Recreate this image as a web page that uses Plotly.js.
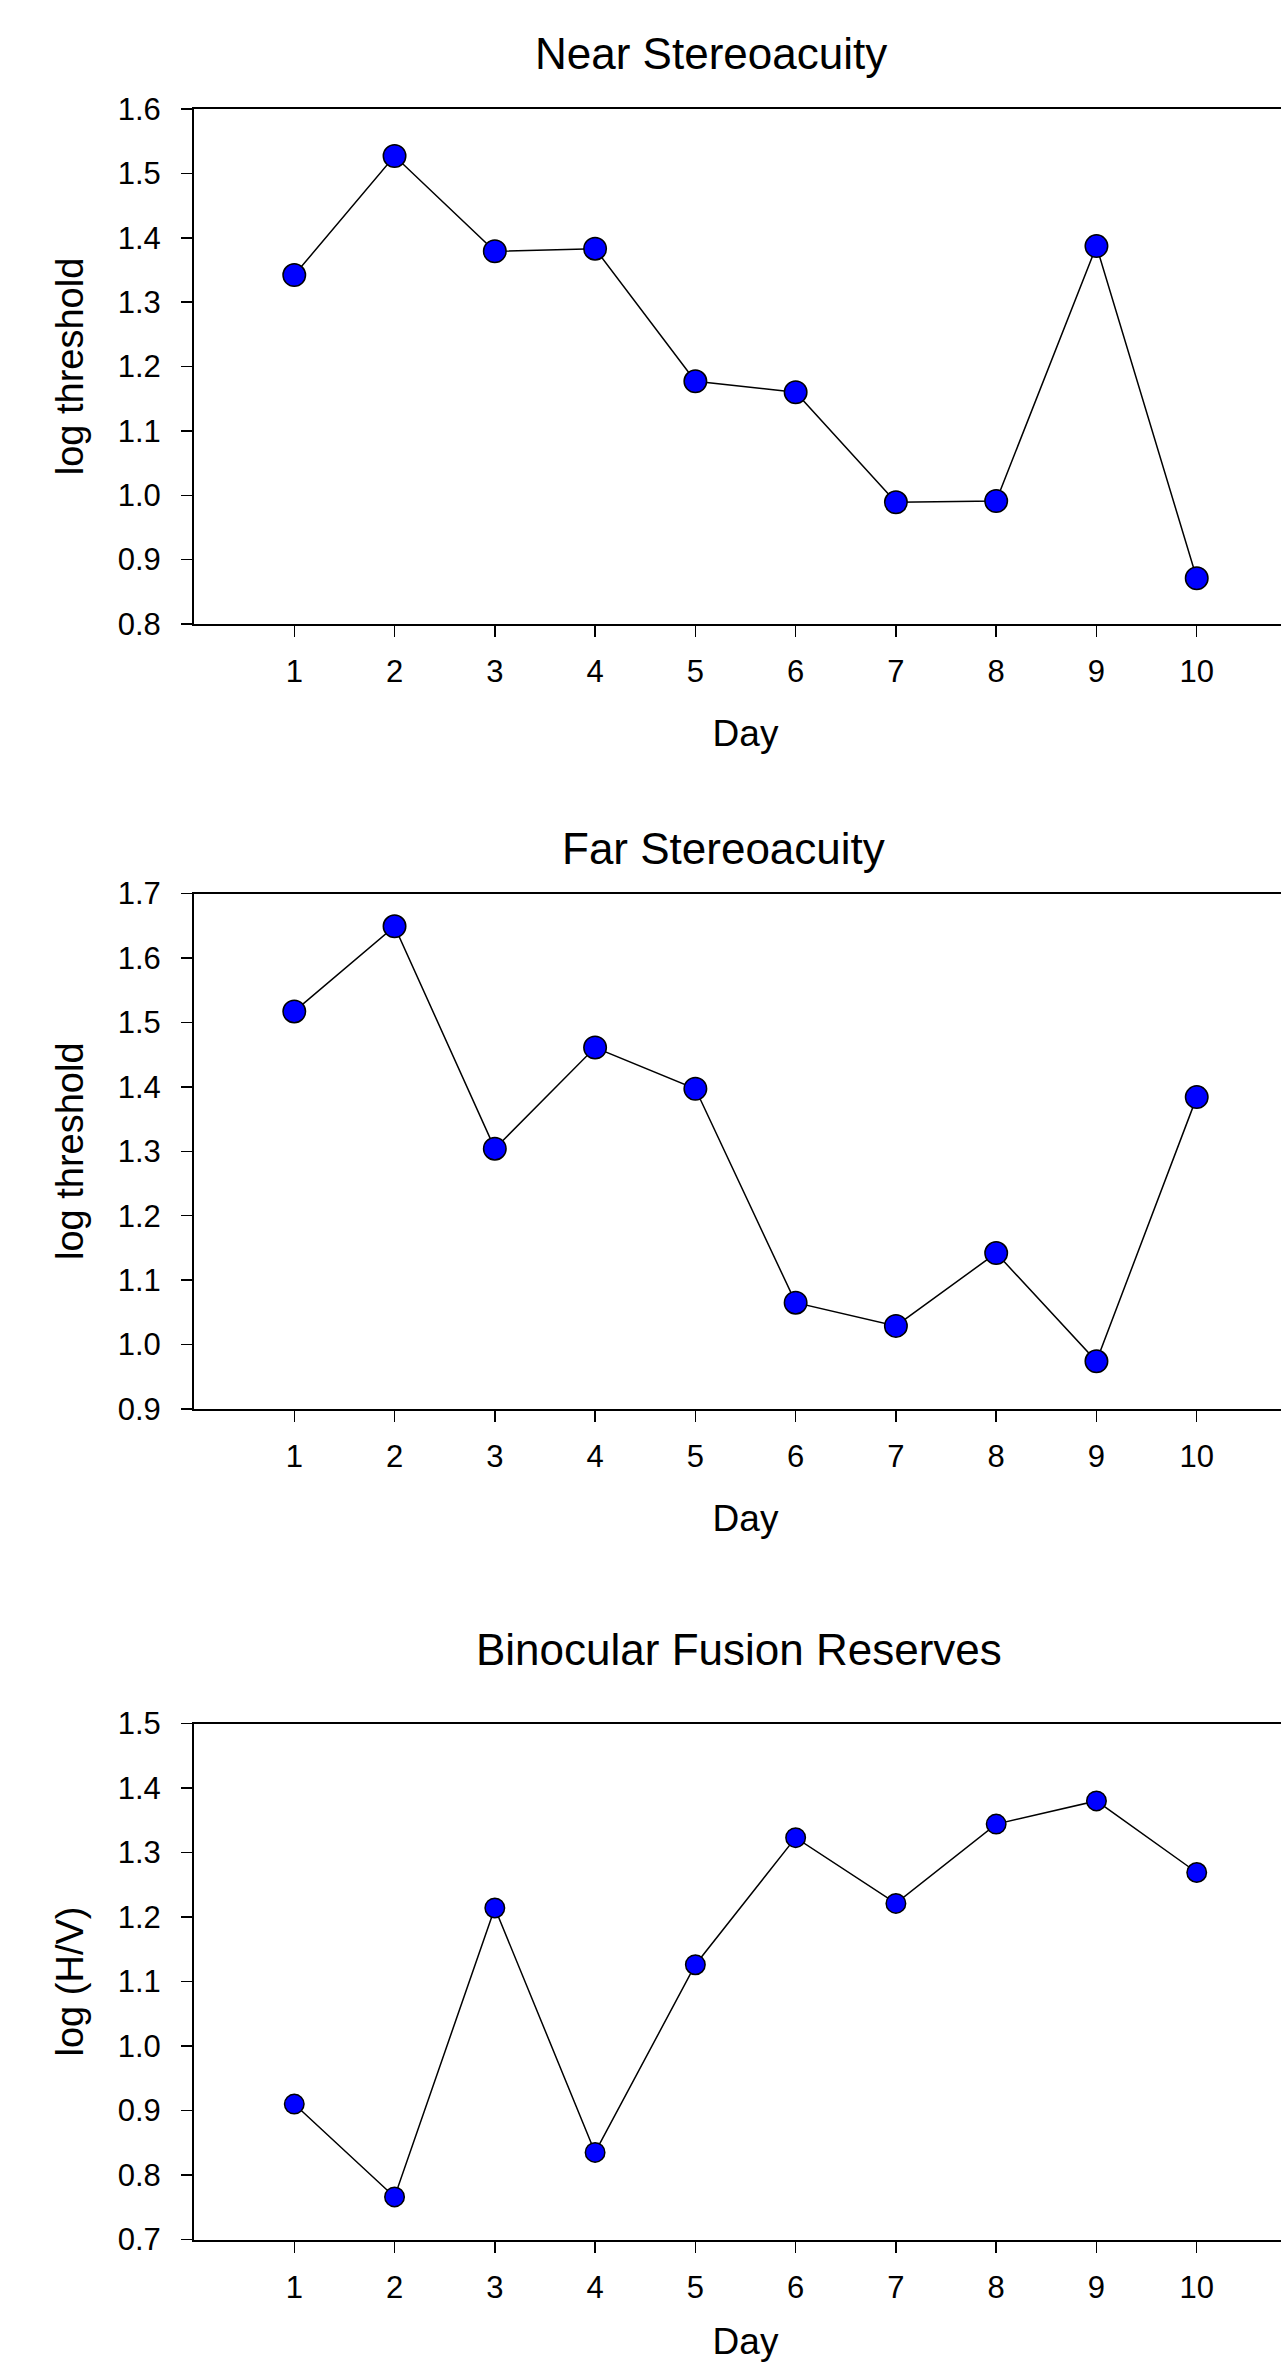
<!DOCTYPE html>
<html><head><meta charset="utf-8">
<script src="https://cdn.plot.ly/plotly-3.0.1.min.js"></script>
<style>html,body{margin:0;padding:0;overflow:hidden;background:#fff}</style>
</head><body><div id="chart"></div>
<script>
// ---- data ----
const days = [1, 2, 3, 4, 5, 6, 7, 8, 9, 10];
const nearStereo = [1.342, 1.527, 1.379, 1.383, 1.177, 1.160, 0.989, 0.991, 1.387, 0.871];
const farStereo  = [1.517, 1.649, 1.304, 1.461, 1.397, 1.065, 1.029, 1.142, 0.974, 1.384];
const fusion     = [0.910, 0.766, 1.214, 0.835, 1.126, 1.323, 1.221, 1.344, 1.380, 1.269];
const panelTitles = ['Near Stereoacuity', 'Far Stereoacuity', 'Binocular Fusion Reserves'];
const yTitles = ['log threshold', 'log threshold', 'log (H/V)'];
const yRanges = [[0.8, 1.6], [0.9, 1.7], [0.7, 1.5]];
const xTitle = 'Day';

// ---- layout helpers ----
const W = 1297, H = 2362, ML = 194;
const PW = W - ML;
const py = y => 1 - y / H;
const pxp = x => (x - ML) / PW;
const FONT = 'Liberation Sans, Arial, sans-serif';

const series = [nearStereo, farStereo, fusion];
const markerSizes = [22.5, 22.5, 19.5];
const panelPix = [[109, 624], [893.5, 1409], [1723.5, 2239.5]];
const titlePix = [[711, 53.8], [723, 848.5], [739, 1649]];

const traces = series.map((vals, i) => ({
  x: days, y: vals,
  xaxis: i === 0 ? 'x' : 'x' + (i + 1),
  yaxis: i === 0 ? 'y' : 'y' + (i + 1),
  type: 'scatter', mode: 'lines+markers',
  line: {color: '#000000', width: 1.5},
  marker: {color: '#0000ff', size: markerSizes[i], line: {color: '#000000', width: 1.5}},
  cliponaxis: false,
  showlegend: false
}));

const layout = {
  width: W, height: H,
  margin: {l: ML, r: 0, t: 0, b: 0},
  paper_bgcolor: '#ffffff', plot_bgcolor: '#ffffff',
  font: {family: FONT, color: '#000000'},
  showlegend: false,
  annotations: []
};

for (let i = 0; i < 3; i++) {
  const sx = i === 0 ? '' : String(i + 1);
  layout['xaxis' + sx] = {
    anchor: 'y' + sx,
    domain: [0, 1],
    range: [0, 11],
    tickvals: days,
    ticktext: days.map(String),
    ticks: 'outside', ticklen: 11, tickwidth: 1.5, tickcolor: '#000000',
    ticklabelstandoff: 8,
    showline: true, mirror: true, linecolor: '#000000', linewidth: 2,
    showgrid: false, zeroline: false,
    tickfont: {family: FONT, size: 31, color: '#000000'},
    title: {text: xTitle, font: {family: FONT, size: 37, color: '#000000'}, standoff: 32}
  };
  layout['yaxis' + sx] = {
    anchor: 'x' + sx,
    domain: [py(panelPix[i][1]), py(panelPix[i][0])],
    range: yRanges[i],
    tick0: 0, dtick: 0.1, tickformat: '.1f',
    ticks: 'outside', ticklen: 11, tickwidth: 1.5, tickcolor: '#000000',
    ticklabelstandoff: 14,
    showline: true, mirror: false, linecolor: '#000000', linewidth: 2,
    showgrid: false, zeroline: false,
    tickfont: {family: FONT, size: 31, color: '#000000'},
    title: {text: yTitles[i], font: {family: FONT, size: 38, color: '#000000'}, standoff: 22}
  };
  layout.annotations.push({
    text: panelTitles[i], xref: 'paper', yref: 'paper',
    x: pxp(titlePix[i][0]), y: py(titlePix[i][1]),
    xanchor: 'center', yanchor: 'middle', showarrow: false,
    font: {family: FONT, size: 44, color: '#000000'}
  });
}

Plotly.newPlot('chart', traces, layout, {displayModeBar: false, staticPlot: true});
</script>
</body></html>
